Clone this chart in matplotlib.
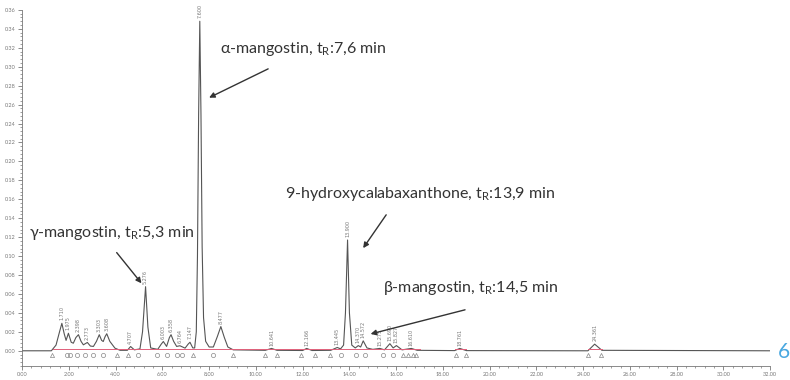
import numpy as np
import matplotlib.pyplot as plt
from matplotlib.ticker import MultipleLocator, FormatStrFormatter

plt.rcParams['font.family'] = ['Lato', 'DejaVu Sans']
plt.rcParams['mathtext.fontset'] = 'custom'
plt.rcParams['mathtext.rm'] = 'Lato'

# chromatogram trace (min, AU)
time = [0.00, 1.25, 1.45, 1.60, 1.70, 1.80, 1.88, 1.98, 2.10, 2.19, 2.30, 2.41, 2.52, 2.62,
        2.79, 2.92, 3.05, 3.18, 3.30, 3.40, 3.47, 3.55, 3.62, 3.75, 3.97, 4.19, 4.50, 4.64,
        4.80, 5.04, 5.15, 5.28, 5.38, 5.50, 5.80, 5.95, 6.04, 6.18, 6.30, 6.37, 6.48, 6.61,
        6.75, 6.97, 7.10, 7.18, 7.30, 7.38, 7.45, 7.50, 7.55, 7.60, 7.65, 7.70, 7.76, 7.85,
        8.00, 8.18, 8.35, 8.50, 8.65, 8.80, 9.03, 10.40, 10.67, 10.90, 12.00, 12.17, 12.40,
        13.20, 13.48, 13.62, 13.75, 13.83, 13.92, 14.00, 14.10, 14.25, 14.38, 14.48, 14.59,
        14.75, 15.00, 15.30, 15.50, 15.73, 15.87, 16.01, 16.25, 16.65, 16.90, 18.50, 18.72,
        19.00, 24.20, 24.49, 24.80, 32.00]
signal = [0.0000, 0.0000, 0.0060, 0.0200, 0.0290, 0.0180, 0.0110, 0.0185, 0.0090, 0.0080,
          0.0140, 0.0170, 0.0100, 0.0063, 0.0088, 0.0050, 0.0046, 0.0100, 0.0170, 0.0110,
          0.0098, 0.0150, 0.0180, 0.0100, 0.0028, 0.0005, 0.0005, 0.0045, 0.0010, 0.0020,
          0.0200, 0.0677, 0.0250, 0.0030, 0.0015, 0.0070, 0.0098, 0.0046, 0.0140, 0.0170,
          0.0100, 0.0046, 0.0053, 0.0028, 0.0070, 0.0090, 0.0030, 0.0030, 0.0200, 0.1000,
          0.2500, 0.3480, 0.2500, 0.1100, 0.0350, 0.0100, 0.0040, 0.0040, 0.0150, 0.0256,
          0.0140, 0.0040, 0.0010, 0.0005, 0.0025, 0.0005, 0.0003, 0.0025, 0.0003, 0.0005,
          0.0035, 0.0020, 0.0060, 0.0400, 0.1170, 0.0400, 0.0060, 0.0030, 0.0055, 0.0040,
          0.0105, 0.0030, 0.0015, 0.0025, 0.0010, 0.0075, 0.0030, 0.0055, 0.0010, 0.0025,
          0.0005, 0.0002, 0.0025, 0.0002, 0.0000, 0.0070, 0.0005, 0.0000]

# retention time labels printed above peaks
peak_rt = [1.710, 1.975, 2.398, 2.773, 3.303, 3.608, 4.707, 5.276, 6.003, 6.358, 6.764,
           7.147, 7.600, 8.477, 10.641, 12.166, 13.445, 13.900, 14.370, 14.572, 15.275,
           15.690, 15.827, 16.610, 18.761, 24.361]
peak_pos = [1.70, 1.98, 2.41, 2.79, 3.30, 3.62, 4.64, 5.28, 6.04, 6.37, 6.75, 7.18, 7.60,
            8.50, 10.67, 12.17, 13.48, 13.92, 14.38, 14.59, 15.30, 15.73, 16.01, 16.65,
            18.72, 24.49]

# integration marks
tri_t = [1.27, 4.05, 4.54, 7.32, 9.03, 10.40, 10.90, 11.95, 12.52, 13.16, 16.30, 16.50,
         16.72, 16.86, 18.57, 19.00, 24.20, 24.77]
circ_t = [1.91, 2.05, 2.36, 2.69, 3.05, 3.47, 4.97, 5.76, 6.18, 6.61, 6.82, 8.18, 13.66,
          14.30, 14.66, 15.44, 15.87]
base_start = [1.30, 18.50, 24.20]
base_end = [17.00, 19.00, 24.80]

fig = plt.figure(figsize=(7.9, 3.8), dpi=100)
ax = fig.add_axes([0.028, 0.037, 0.947, 0.937])

ax.plot(time, signal, color='#555555', lw=0.8)
for s, e in zip(base_start, base_end):
    ax.plot([s, e], [0.0015, 0.0015], color='#e0607a', lw=0.7)
ax.plot(tri_t, [-0.004] * len(tri_t), ls='none', marker='^', ms=3, mfc='none',
        mec='#888888', mew=0.5)
ax.plot(circ_t, [-0.004] * len(circ_t), ls='none', marker='o', ms=3, mfc='none',
        mec='#888888', mew=0.5)

apex = np.interp(peak_pos, time, signal)
for rt, x, y in zip(peak_rt, peak_pos, apex):
    ax.text(x, y + 0.003, '%.3f' % rt, rotation=90, ha='center', va='bottom',
            fontsize=3.5, color='#777777', family='DejaVu Sans')

ax.set_xlim(0, 32)
ax.set_ylim(-0.016, 0.36)
ax.xaxis.set_major_locator(MultipleLocator(2))
ax.xaxis.set_minor_locator(MultipleLocator(0.4))
ax.yaxis.set_major_locator(MultipleLocator(0.02))
ax.yaxis.set_minor_locator(MultipleLocator(0.004))
ax.xaxis.set_major_formatter(FormatStrFormatter('%.2f'))
ax.yaxis.set_major_formatter(FormatStrFormatter('%.2f'))
ax.tick_params(which='major', length=3, width=0.6, color='#777777', labelsize=4,
               labelcolor='#777777', pad=1.5)
ax.tick_params(which='minor', length=1.5, width=0.5, color='#777777')
for side in ['top', 'right']:
    ax.spines[side].set_visible(False)
for side in ['left', 'bottom']:
    ax.spines[side].set_color('#777777')
    ax.spines[side].set_linewidth(0.6)

arrow = dict(arrowstyle='-|>', color='#333333', lw=1.0, mutation_scale=8)
tr = r't$_\mathregular{R}$'
fs = 11.5
ax.text(8.46, 0.319, 'α-mangostin, ' + tr + ':7,6 min', ha='left', va='center',
        fontsize=fs, color='#333333')
ax.annotate('', xy=(7.89, 0.266), xytext=(10.63, 0.299), arrowprops=arrow)
ax.text(11.24, 0.166, '9-hydroxycalabaxanthone, ' + tr + ':13,9 min', ha='left',
        va='center', fontsize=fs, color='#333333')
ax.annotate('', xy=(14.52, 0.106), xytext=(15.64, 0.146), arrowprops=arrow)
ax.text(0.30, 0.124, 'γ-mangostin, ' + tr + ':5,3 min', ha='left', va='center',
        fontsize=fs, color='#333333')
ax.annotate('', xy=(5.18, 0.069), xytext=(3.97, 0.106), arrowprops=arrow)
ax.text(15.43, 0.066, 'β-mangostin, ' + tr + ':14,5 min', ha='left', va='center',
        fontsize=fs, color='#333333')
ax.annotate('', xy=(14.79, 0.017), xytext=(19.06, 0.044), arrowprops=arrow)

fig.text(778 / 790, 1 - 352 / 380, '6', fontsize=15, color='#4aa8e0', ha='left', va='center')

fig.savefig('out.png', dpi=100)
